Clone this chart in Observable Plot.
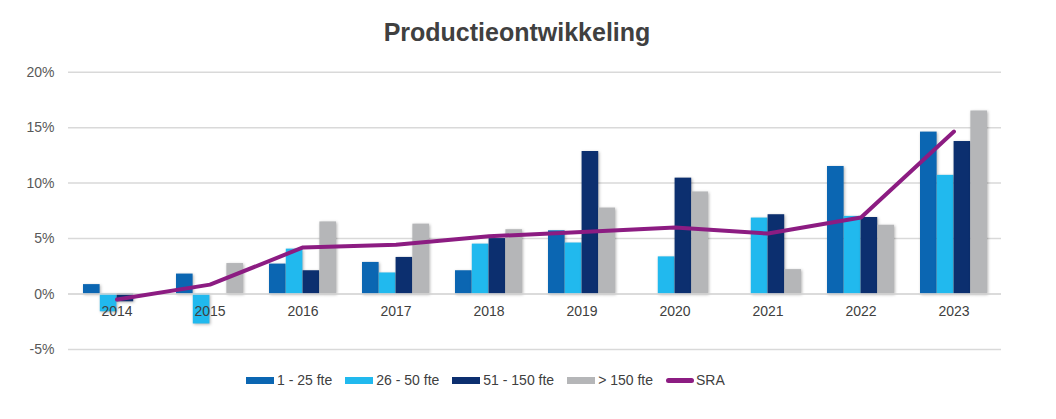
<!DOCTYPE html>
<html>
<head>
<meta charset="utf-8">
<script src="https://cdn.jsdelivr.net/npm/d3@7"></script>
<script src="https://cdn.jsdelivr.net/npm/@observablehq/plot@0.6"></script>
<style>
  body { margin: 0; background: #fff; font-family: "Liberation Sans", Arial, sans-serif; }
  #wrap { position: relative; width: 1056px; height: 419px; }
  #title { position: absolute; top: 18px; left: 0; width: 1034px; text-align: center; font-size: 25px; font-weight: bold; color: #404040; }
  #chart { position: absolute; top: 60px; left: 0; }
  #legend { position: absolute; top: 372px; left: 246px; display: flex; align-items: center; font-size: 14px; color: #404040; }
  .item { display: flex; align-items: center; margin-right: 13px; }
  .sw { width: 28px; height: 7px; margin-right: 3px; }
  .ln { width: 28px; height: 5px; border-radius: 3px; margin-right: 2px; }
  #chart rect.bar { filter: drop-shadow(1.5px 1.5px 1.5px rgba(0,0,0,0.3)); }
</style>
</head>
<body>
<div id="wrap">
  <div id="title">Productieontwikkeling</div>
  <div id="chart"></div>
  <div id="legend"></div>
</div>
<script>
const years = ["2014","2015","2016","2017","2018","2019","2020","2021","2022","2023"];
const seriesNames = ["1 - 25 fte", "26 - 50 fte", "51 - 150 fte", "> 150 fte"];
const s1 = [0.85, 1.8, 2.7, 2.85, 2.1, 5.7, null, null, 11.5, 14.6];
const s2 = [-1.6, -2.7, 4.05, 1.9, 4.5, 4.6, 3.35, 6.85, 7.0, 10.7];
const s3 = [-0.7, null, 2.1, 3.3, 5.0, 12.85, 10.45, 7.15, 6.9, 13.75];
const s4 = [null, 2.75, 6.5, 6.3, 5.8, 7.75, 9.2, 2.2, 6.2, 16.5];
const sraName = "SRA";
const sra = [-0.5, 0.85, 4.2, 4.45, 5.2, 5.6, 6.0, 5.45, 6.9, 14.65];
const yTicks = [-5, 0, 5, 10, 15, 20];

const colors = ["#0b66b2", "#21b9ee", "#0c2f6f", "#b5b6b8"];
const sraColor = "#8c1c82";

const seriesValues = [s1, s2, s3, s4];
const width = 1056, marginLeft = 68, marginRight = 55;
const padInner = 0.28, padOuter = 0.14;
const step = (width - marginLeft - marginRight) / (years.length - padInner + 2 * padOuter);
const bw = step * (1 - padInner) / 4;

const barMarks = seriesValues.map((vals, i) => {
  const data = years.map((y, j) => ({year: y, value: vals[j]})).filter(d => d.value != null);
  return Plot.barY(data, {
    x: "year", y: "value", fill: colors[i],
    insetLeft: i * bw, insetRight: (3 - i) * bw
  });
});

const sraData = years.map((y, j) => ({year: y, value: sra[j]}));

const chart = Plot.plot({
  width, height: 305,
  marginLeft, marginRight, marginTop: 11.7, marginBottom: 16,
  style: {fontFamily: "'Liberation Sans', Arial, sans-serif", fontSize: "14px", color: "#595959", background: "transparent"},
  x: {type: "band", domain: years, paddingInner: padInner, paddingOuter: padOuter, axis: null},
  y: {domain: [-5, 20], ticks: yTicks, tickFormat: d => d + "%", tickSize: 0, tickPadding: 14, label: null},
  marks: [
    Plot.ruleY(yTicks, {stroke: "#d9d9d9", strokeWidth: 1.5}),
    ...barMarks,
    Plot.ruleY([0], {stroke: "#d9d9d9", strokeWidth: 1.5}),
    Plot.text(years, {x: d => d, y: 0, dy: 17, text: d => d, fill: "#404040", fontSize: 14}),
    Plot.line(sraData, {x: "year", y: "value", stroke: sraColor, strokeWidth: 4, strokeLinejoin: "round", strokeLinecap: "round"})
  ]
});
chart.querySelectorAll("g[aria-label='bar'] rect").forEach(r => r.classList.add("bar"));
document.getElementById("chart").appendChild(chart);

const legend = document.getElementById("legend");
seriesNames.forEach((n, i) => {
  const it = document.createElement("div"); it.className = "item";
  it.innerHTML = `<span class="sw" style="background:${colors[i]}"></span><span>${n}</span>`;
  legend.appendChild(it);
});
const it = document.createElement("div"); it.className = "item";
it.innerHTML = `<span class="ln" style="background:${sraColor}"></span><span>${sraName}</span>`;
legend.appendChild(it);
</script>
</body>
</html>
